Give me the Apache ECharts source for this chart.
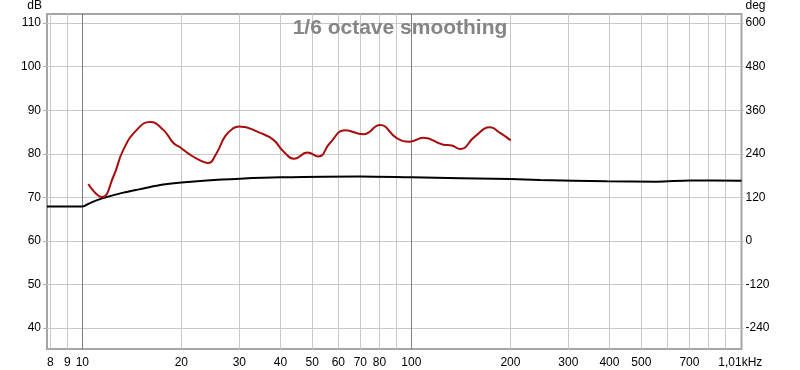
<!DOCTYPE html>
<html>
<head>
<meta charset="utf-8">
<script src="https://cdn.jsdelivr.net/npm/echarts@6/dist/echarts.min.js"></script>
<style>html,body{margin:0;padding:0;background:#fff}#c{width:800px;height:370px}</style>
</head>
<body>
<div id="c"></div>
<script>
// ---- data ----
const redFreq = [10.43, 11.46, 12.43, 13.32, 14.64, 16.07, 17.63, 18.91, 19.82, 21.25, 22.8, 24.06, 25.6, 27.15, 28.8, 30.0, 34.7, 38.1, 40.8, 44.1, 48.3, 52.2, 56.6, 62.9, 71.5, 80.3, 90.3, 99.1, 108.8, 125.1, 132.7, 140.6, 156.2, 173.4, 186.1, 200.5];
const redDb   = [73.1, 70.1, 74.8, 80.9, 85.5, 87.3, 85.5, 82.5, 81.5, 79.8, 78.5, 77.9, 80.2, 84.0, 85.9, 86.3, 84.8, 83.2, 80.6, 78.9, 80.3, 79.4, 82.5, 85.4, 84.5, 86.6, 83.6, 82.8, 83.7, 82.1, 81.9, 81.1, 84.0, 86.1, 84.8, 83.1];
const blackFreq = [7.81, 10.0, 10.55, 11.32, 12.29, 13.32, 14.98, 16.83, 20.0, 23.88, 30.2, 39.9, 69.8, 100, 200, 246, 392.6, 557, 703, 1008];
const blackDb   = [67.9, 67.9, 68.7, 69.6, 70.4, 71.1, 71.9, 72.7, 73.4, 73.9, 74.3, 74.6, 74.8, 74.6, 74.2, 74.0, 73.7, 73.6, 73.9, 73.8];
const xLabelValues = [8, 9, 10, 20, 30, 40, 50, 60, 70, 80, 100, 200, 300, 400, 500, 700, 1000];
const xMinorGrid = [8, 9, 20, 30, 40, 50, 60, 70, 80, 90, 200, 300, 400, 500, 600, 700, 800, 900];
const xMajorGrid = [10, 100];
const dbTicks = [40, 50, 60, 70, 80, 90, 100, 110];
const degTicks = [-240, -120, 0, 120, 240, 360, 480, 600];
const titleText = '1/6 octave smoothing';

const X_MIN = 7.81, X_MAX = 1008;
const DB_MIN = 35.2, DB_MAX = 112.1;
const DEG_MIN = (DB_MIN - 60) * 12, DEG_MAX = (DB_MAX - 60) * 12;

const font = 'Liberation Sans, Arial, sans-serif';
const gridLines = [];
xMinorGrid.forEach(v => gridLines.push({ xAxis: v, lineStyle: { color: '#c8c8c8', width: 1, type: 'solid' } }));
dbTicks.forEach(v => gridLines.push({ yAxis: v, lineStyle: { color: '#c8c8c8', width: 1, type: 'solid' } }));
xMajorGrid.forEach(v => gridLines.push({ xAxis: v, lineStyle: { color: '#808080', width: 1, type: 'solid' } }));

const chart = echarts.init(document.getElementById('c'), null, { renderer: 'canvas' });
chart.setOption({
  animation: false,
  backgroundColor: '#fff',
  title: {
    text: titleText, left: 'center', top: 18, padding: 0,
    textStyle: { fontFamily: font, fontSize: 21, fontWeight: 'bold', color: '#858585' }
  },
  grid: { left: 47, right: 58.5, top: 14, bottom: 21, show: true, borderColor: '#a5a5a5', borderWidth: 2, backgroundColor: 'transparent' },
  xAxis: {
    type: 'log', min: X_MIN, max: X_MAX, logBase: 10,
    axisLine: { show: false }, splitLine: { show: false }, minorSplitLine: { show: false },
    axisTick: { show: false },
    axisLabel: {
      customValues: xLabelValues, margin: 8, color: '#000', fontFamily: font, fontSize: 12,
      formatter: v => { const r = Math.round(v); return r === 1000 ? '1,01kHz' : String(r); }
    }
  },
  yAxis: [{
    type: 'value', min: DB_MIN, max: DB_MAX, position: 'left',
    name: 'dB', nameLocation: 'end', nameGap: 2,
    nameTextStyle: { fontFamily: font, fontSize: 12, color: '#000', align: 'right', verticalAlign: 'bottom', padding: [0, 5, 0, 0] },
    axisLine: { show: false }, splitLine: { show: false },
    axisTick: { show: true, customValues: dbTicks, length: 4, lineStyle: { color: '#b0b0b0' } },
    axisLabel: { customValues: dbTicks, margin: 6, color: '#000', fontFamily: font, fontSize: 12 }
  }, {
    type: 'value', min: DEG_MIN, max: DEG_MAX, position: 'right',
    name: 'deg', nameLocation: 'end', nameGap: 2,
    nameTextStyle: { fontFamily: font, fontSize: 12, color: '#000', align: 'left', verticalAlign: 'bottom', padding: [0, 0, 0, 4] },
    axisLine: { show: false }, splitLine: { show: false },
    axisTick: { show: true, customValues: degTicks, length: 2, lineStyle: { color: '#b0b0b0' } },
    axisLabel: { customValues: degTicks, margin: 4, color: '#000', fontFamily: font, fontSize: 12 }
  }],
  series: [{
    type: 'line', name: 'grid', data: [[X_MIN, DB_MIN]], showSymbol: false, symbol: 'none',
    lineStyle: { width: 0 }, z: 1, silent: true,
    markLine: { silent: true, symbol: ['none', 'none'], z: 1, label: { show: false }, data: gridLines, animation: false }
  }, {
    type: 'line', name: 'black', data: blackFreq.map((f, i) => [f, blackDb[i]]),
    showSymbol: false, symbol: 'none', smooth: 0.3, z: 3,
    lineStyle: { color: '#000', width: 2 }
  }, {
    type: 'line', name: 'red', data: redFreq.map((f, i) => [f, redDb[i]]),
    showSymbol: false, symbol: 'none', smooth: 0.5, z: 4,
    lineStyle: { color: '#a80c0c', width: 2 }
  }]
});
</script>
</body>
</html>
